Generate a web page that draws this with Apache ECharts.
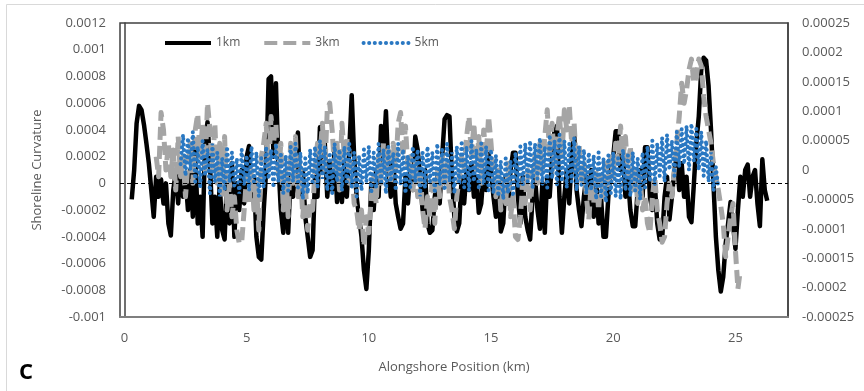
<!DOCTYPE html>
<html><head><meta charset="utf-8">
<script src="https://cdn.jsdelivr.net/npm/echarts@6/dist/echarts.min.js"></script>
<style>html,body{margin:0;padding:0;background:#fff}#c{width:864px;height:391px}</style>
</head><body><div id="c"></div>
<script>
// Alongshore sampling (km)
const xStep = 0.1;
const start1km = 0.3, start3km = 1.3, start5km = 2.3;
const seriesNames = ['1km', '3km', '5km'];
const xTickValues = [0, 5, 10, 15, 20, 25];

// 1km curvature (left axis)
const curv1km = [
-1.2e-4,1e-4,4.5e-4,5.8e-4,5.5e-4,4.4e-4,3e-4,1.5e-4,-0.5e-4,-2.5e-4,
0.5e-4,-1e-4,0.3e-4,-1.5e-4,0,-3e-4,-3.9e-4,-0.5e-4,0.8e-4,-1.5e-4,
1.5e-4,-1e-4,0.5e-4,-2e-4,1e-4,-2.5e-4,2.5e-4,-3e-4,-1e-4,-4e-4,
3e-4,4.6e-4,1.5e-4,-3e-4,-1e-4,-4e-4,0,-3.5e-4,-4.2e-4,0.5e-4,
-3e-4,1.5e-4,-4e-4,0,-2e-4,1e-4,-1.5e-4,2e-4,2.8e-4,-1e-4,
0.5e-4,-4e-4,-5.5e-4,-5.7e-4,-2e-4,1e-4,7.8e-4,8e-4,2e-4,7.5e-4,
1.5e-4,-2e-4,-3.7e-4,0,-3.7e-4,0.5e-4,-1e-4,2e-4,3.8e-4,-1e-4,
1e-4,-2.5e-4,-4e-4,-5.5e-4,-5e-4,0.5e-4,-1e-4,4.2e-4,1e-4,3e-4,
-1e-4,1.5e-4,-0.5e-4,2.5e-4,-1.4e-4,1e-4,-1.4e-4,1.5e-4,-1e-4,2.5e-4,
6.6e-4,2e-4,-1e-4,-2.5e-4,-4e-4,-6.5e-4,-7.9e-4,-5e-4,0,-2e-4,
1e-4,-1e-4,4.3e-4,2e-4,5.4e-4,1e-4,-1e-4,2e-4,-1.5e-4,-2.5e-4,
-3.4e-4,-3e-4,0.5e-4,-1.5e-4,1e-4,-0.5e-4,3.5e-4,2.5e-4,0.5e-4,-2e-4,
1e-4,-3e-4,-3.7e-4,-3.5e-4,-1e-4,0.5e-4,-1.5e-4,2e-4,4.8e-4,5.1e-4,
5e-4,0.5e-4,-2.5e-4,-3.6e-4,-3e-4,0.5e-4,-1.5e-4,1e-4,-0.5e-4,1.5e-4,
-1e-4,0.5e-4,-2.2e-4,-1.5e-4,1e-4,-0.5e-4,2.2e-4,1e-4,-1e-4,-2.5e-4,
0,-3.6e-4,-3e-4,0.5e-4,-1.5e-4,1e-4,2.3e-4,2.3e-4,-1e-4,-3e-4,
0.5e-4,-2.5e-4,-3.5e-4,-4.2e-4,-1e-4,0.5e-4,-2e-4,-3.4e-4,0,-3.7e-4,
0.5e-4,-1e-4,2e-4,4e-4,4.3e-4,-1e-4,-3.7e-4,-1e-4,1e-4,-1.5e-4,
2e-4,3.8e-4,-0.5e-4,-2e-4,-3.2e-4,-1e-4,0.5e-4,-2e-4,1e-4,-2.5e-4,
0.5e-4,-3e-4,-1e-4,-4e-4,-4e-4,-1e-4,1e-4,2e-4,3.9e-4,3.9e-4,
1e-4,2e-4,-1e-4,0.5e-4,-2e-4,-3.2e-4,-3.2e-4,-0.5e-4,1e-4,-1e-4,
2.7e-4,2.7e-4,-1e-4,-2e-4,0,-3e-4,-4.2e-4,-4.2e-4,-1e-4,0.5e-4,
-2.7e-4,-1e-4,1e-4,2e-4,-0.5e-4,1.5e-4,-1e-4,0.5e-4,-2.5e-4,-2.9e-4,
0,3e-4,5e-4,8.5e-4,9.4e-4,9.2e-4,7.3e-4,4e-4,0,-4e-4,
-6.5e-4,-8.1e-4,-7e-4,-4.5e-4,-3e-4,-1.4e-4,-3e-4,-4.9e-4,-2e-4,0.5e-4,
-1e-4,1e-4,1.4e-4,-1e-4,0.5e-4,1e-4,-1.5e-4,-3.2e-4,1.8e-4,-0.5e-4,
-1.3e-4
];

// 3km curvature (left axis)
const curv3km = [
2e-4,0.5e-4,5.3e-4,4e-4,1e-4,3e-4,0.5e-4,2.5e-4,-0.5e-4,3.5e-4,
0.5e-4,2e-4,-1e-4,1.5e-4,3e-4,0,4e-4,5.2e-4,2e-4,4.5e-4,
1e-4,6e-4,4e-4,1e-4,4.5e-4,0,3e-4,-1e-4,3.5e-4,-2e-4,
0,-2.5e-4,-1e-4,-3.5e-4,-4.5e-4,-4.4e-4,-2e-4,0.5e-4,-1.5e-4,1e-4,
-2e-4,0,-3.5e-4,2e-4,3e-4,4.5e-4,1e-4,5e-4,3e-4,4.5e-4,
0.5e-4,3e-4,-2e-4,1e-4,-2.5e-4,3e-4,0,3.5e-4,-1e-4,1e-4,
-2.5e-4,0,-3.5e-4,-1.5e-4,-2e-4,1e-4,3e-4,2e-4,4.5e-4,1e-4,
5.5e-4,6e-4,4e-4,1e-4,3e-4,-0.5e-4,4.5e-4,2e-4,3.5e-4,0,
1.5e-4,-1.5e-4,-2e-4,-3.5e-4,-2e-4,-4.7e-4,-2.5e-4,-3.7e-4,-1e-4,0.5e-4,
-1.5e-4,2e-4,0,3e-4,1e-4,2.5e-4,0,3e-4,1e-4,4.5e-4,
5.3e-4,2e-4,4.3e-4,1e-4,2e-4,-0.5e-4,1.5e-4,-1e-4,1e-4,-2e-4,
-3.4e-4,-1e-4,-2.5e-4,0.5e-4,-3e-4,1e-4,-1e-4,2e-4,0,1.5e-4,
-1e-4,-2e-4,-3.4e-4,-1e-4,0.5e-4,2e-4,1e-4,3.5e-4,5e-4,2e-4,
4.5e-4,1e-4,3.5e-4,0,4e-4,2e-4,5e-4,3e-4,0.5e-4,-1e-4,
1e-4,-2e-4,0,-1.5e-4,1.5e-4,-2.5e-4,-1e-4,-4e-4,-4.2e-4,-2.5e-4,
0,-1.5e-4,1e-4,-2e-4,0.5e-4,2e-4,0,3e-4,1e-4,3.5e-4,
5.5e-4,2e-4,4.5e-4,1e-4,3.5e-4,5.2e-4,2e-4,5.5e-4,4e-4,5.8e-4,
3e-4,4.5e-4,1e-4,3e-4,0,1.5e-4,-1e-4,-2.7e-4,0,-1.5e-4,
1e-4,-2e-4,0.5e-4,-1e-4,1.5e-4,-0.5e-4,2e-4,0.5e-4,3e-4,1.5e-4,
4.3e-4,2e-4,3.5e-4,0.5e-4,2.8e-4,-0.5e-4,1e-4,-1.5e-4,0.5e-4,-2e-4,
-1e-4,-3e-4,-3.7e-4,-1e-4,0.5e-4,-2e-4,-3e-4,-4.4e-4,-4e-4,-1.5e-4,
0,-1e-4,1e-4,3e-4,5e-4,7.5e-4,6e-4,7e-4,8.5e-4,9.3e-4,
7.5e-4,8e-4,9.3e-4,8.8e-4,6.5e-4,5e-4,4e-4,3e-4,1.5e-4,0.5e-4,
-0.5e-4,-1.7e-4,-3e-4,-5.5e-4,-4e-4,-2.5e-4,-1.5e-4,-5e-4,-7.9e-4,-6.5e-4
];

// 5km curvature (right axis)
const curv5km = [
1e-5,6e-5,-1e-5,5.5e-5,0,6.5e-5,-2e-5,4e-5,-3e-5,5e-5,
-1e-5,3.5e-5,-4e-5,4.5e-5,-2e-5,3e-5,-4.5e-5,2e-5,-3.5e-5,4e-5,
-2e-5,3e-5,-3e-5,2e-5,-4e-5,3.5e-5,-2.5e-5,2.5e-5,-3.5e-5,4e-5,
-2e-5,3e-5,-4.5e-5,2e-5,-3e-5,4e-5,-1.5e-5,3.5e-5,-3e-5,4.5e-5,
-2e-5,3e-5,-4e-5,2.5e-5,-3.5e-5,4e-5,-2e-5,4.5e-5,-3e-5,3e-5,
-5e-5,2e-5,-4e-5,3.5e-5,-2.5e-5,4e-5,-3e-5,5e-5,-1.5e-5,4e-5,
-3.5e-5,3e-5,-4e-5,4.5e-5,-2e-5,3.5e-5,-3.5e-5,4e-5,-2.5e-5,4.5e-5,
-3e-5,3e-5,-4.5e-5,2.5e-5,-3.5e-5,3.5e-5,-2e-5,4e-5,-4e-5,3e-5,
-3e-5,4.5e-5,-2.5e-5,3.5e-5,-4e-5,4e-5,-2e-5,3e-5,-3.5e-5,4.5e-5,
-2.5e-5,3.5e-5,-4e-5,2.5e-5,-3e-5,4e-5,-2e-5,3.5e-5,-4.5e-5,3e-5,
-3e-5,4e-5,-2e-5,3e-5,-4e-5,4.5e-5,-2.5e-5,3.5e-5,-3.5e-5,4.5e-5,
-2e-5,3e-5,-4e-5,4e-5,-2.5e-5,5e-5,-3e-5,4e-5,-3.5e-5,5e-5,
-2e-5,3.5e-5,-3e-5,4.5e-5,-2.5e-5,4e-5,-3.5e-5,3.5e-5,-4e-5,2.5e-5,
-4.5e-5,1.5e-5,-5e-5,2e-5,-4e-5,1.5e-5,-4.5e-5,3e-5,-3e-5,4e-5,
-2.5e-5,4.5e-5,-2e-5,5e-5,-3e-5,4.5e-5,-1.5e-5,5.5e-5,-2.5e-5,4e-5,
-3e-5,6e-5,-1.5e-5,5e-5,-2.5e-5,6e-5,-2e-5,5e-5,-3e-5,4.5e-5,
-2e-5,5.5e-5,-3.5e-5,4e-5,-2.5e-5,3.5e-5,-4e-5,3e-5,-3.5e-5,2.5e-5,
-5e-5,3e-5,-4.5e-5,2e-5,-5.5e-5,2.5e-5,-4e-5,3e-5,-4.5e-5,2e-5,
-5e-5,3.5e-5,-3.5e-5,2.5e-5,-4.5e-5,3e-5,-3.5e-5,2e-5,-5e-5,3e-5,
-3e-5,4e-5,-2e-5,5e-5,-2.5e-5,4.5e-5,-1e-5,5.5e-5,-2e-5,6e-5,
0,5e-5,-1e-5,6.5e-5,0.5e-5,7e-5,1e-5,7.5e-5,0,7.9e-5,
1.5e-5,7e-5,0,6.5e-5,-1e-5,5e-5,-2e-5,3e-5,-3.5e-5,0.5e-5,
-3e-5
];

function toPairs(start, vals) {
  return vals.map((v, i) => [Math.round((start + i * xStep) * 100) / 100, v]);
}
function fmt(v, d) { return String(parseFloat(v.toFixed(d))); }

const chart = echarts.init(document.getElementById('c'), null, { renderer: 'canvas' });
const txt = '#595959';
const font = 'Open Sans';
chart.setOption({
  animation: false,
  backgroundColor: '#fff',
  graphic: [
    { type: 'rect', shape: { x: 6.5, y: 4.5, width: 900, height: 400 }, style: { fill: 'none', stroke: '#d9d9d9', lineWidth: 1 }, silent: true },
    { type: 'text', left: 19, top: 362, style: { text: 'C', font: 'bold 22px "Open Sans"', fill: '#000' } }
  ],
  grid: { left: 120, top: 23, width: 668, height: 294, show: true, borderColor: '#404040', borderWidth: 1.5, backgroundColor: 'transparent' },
  legend: {
    left: 158, top: 32, itemWidth: 46, itemHeight: 10, itemGap: 22,
    itemStyle: { opacity: 0 },
    lineStyle: { width: 4 },
    textStyle: { color: txt, fontSize: 12, fontFamily: font },
    data: seriesNames
  },
  xAxis: {
    type: 'value', min: -0.18, max: 27.15,
    axisLine: { show: true, onZero: false, lineStyle: { color: '#7f7f7f', width: 2 } },
    axisTick: { show: false }, splitLine: { show: false },
    axisLabel: { customValues: xTickValues, color: txt, fontSize: 13, fontFamily: font, margin: 15 },
    name: 'Alongshore Position (km)', nameLocation: 'middle', nameGap: 44,
    nameTextStyle: { color: txt, fontSize: 13, fontFamily: font }
  },
  yAxis: [
    {
      type: 'value', min: -0.001, max: 0.0012, interval: 0.0002,
      axisLine: { show: true, lineStyle: { color: '#404040', width: 1.5 } },
      axisTick: { show: false }, splitLine: { show: false },
      axisLabel: { formatter: v => fmt(v, 5), color: txt, fontSize: 13, fontFamily: font, margin: 14 },
      name: 'Shoreline Curvature', nameLocation: 'middle', nameGap: 76, nameRotate: 90,
      nameTextStyle: { color: txt, fontSize: 13, fontFamily: font }
    },
    {
      type: 'value', position: 'right', min: -0.00025, max: 0.00025, interval: 0.00005,
      axisLine: { show: true, lineStyle: { color: '#404040', width: 1.5 } },
      axisTick: { show: false }, splitLine: { show: false },
      axisLabel: { formatter: v => fmt(v, 6), color: txt, fontSize: 13, fontFamily: font, margin: 14 }
    }
  ],
  series: [
    {
      name: '1km', type: 'line', yAxisIndex: 0, symbol: 'none', z: 2,
      data: toPairs(start1km, curv1km),
      lineStyle: { color: '#000000', width: 4.5, join: 'round' }, itemStyle: { color: '#000000' },
      markLine: {
        silent: true, symbol: ['none', 'none'], label: { show: false },
        lineStyle: { color: '#000', type: [4, 3], width: 1 },
        data: [{ yAxis: 0 }]
      }
    },
    {
      name: '3km', type: 'line', yAxisIndex: 0, symbol: 'none', z: 3,
      data: toPairs(start3km, curv3km),
      lineStyle: { color: '#a5a5a5', width: 5, type: [13, 6], join: 'round' }, itemStyle: { color: '#a5a5a5' }
    },
    {
      name: '5km', type: 'line', yAxisIndex: 1, symbol: 'none', z: 4,
      data: toPairs(start5km, curv5km),
      lineStyle: { color: '#2a78c2', width: 4, type: [0.1, 5.5], cap: 'round' }, itemStyle: { color: '#2a78c2' }
    }
  ]
});
</script>
</body></html>
